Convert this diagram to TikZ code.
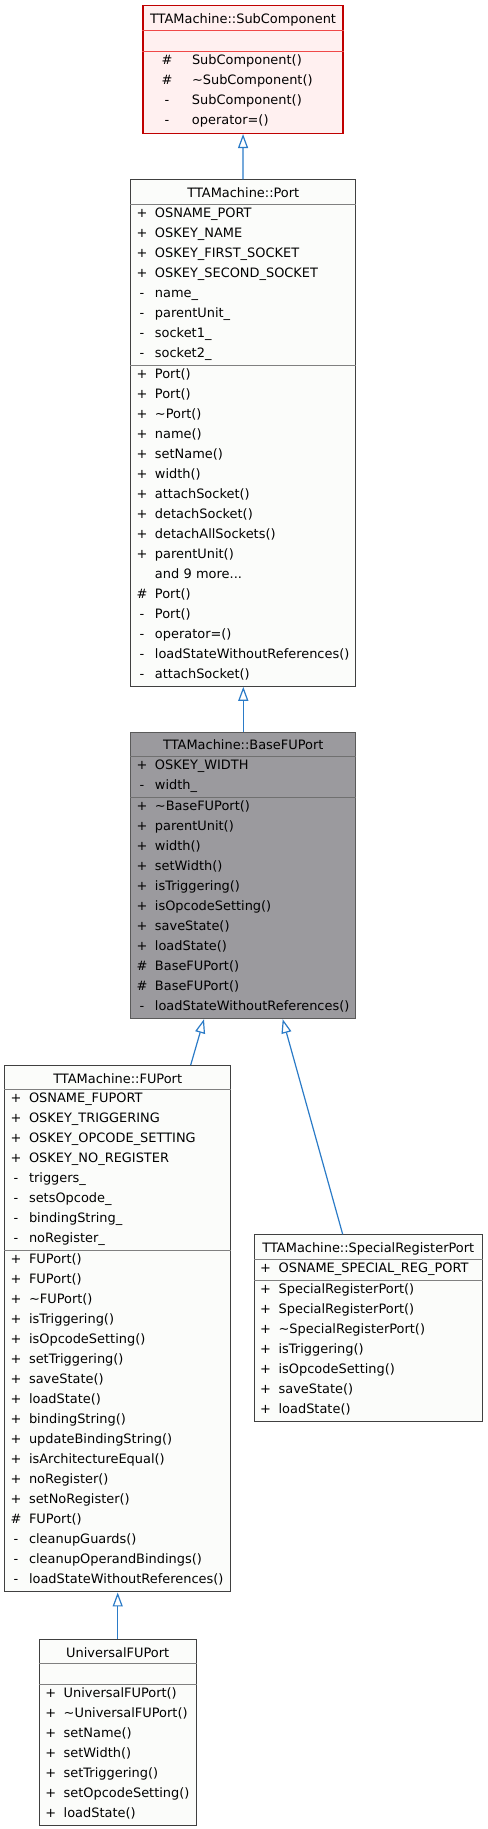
\documentclass[tikz,border=0pt]{standalone}
\usepackage{fontspec}
\setmainfont{DejaVu Sans}
\usetikzlibrary{shapes.multipart,arrows.meta,calc}
\setlength{\parindent}{0pt}

\definecolor{edgeblue}{HTML}{2B7BC7}
\definecolor{boxline}{HTML}{404040}
\definecolor{boxfill}{HTML}{FBFCFA}
\definecolor{boxsep}{HTML}{808080}
\definecolor{curline}{HTML}{5A5A5A}
\definecolor{curfill}{HTML}{9B9A9E}
\definecolor{cursep}{HTML}{707070}
\definecolor{subline}{HTML}{C00000}
\definecolor{subfill}{HTML}{FFF0F0}
\definecolor{subsep}{HTML}{F04848}

\newcommand{\rowstrut}{\rule[-5.8pt]{0pt}{15pt}}
\newcommand{\titlestrut}{\rule[-4.8pt]{0pt}{17.6pt}}
\newcommand{\ctitle}[1]{\makebox[\hsize][c]{\titlestrut #1}}
\newcommand{\mrow}[2]{\rowstrut\hspace*{4pt}\makebox[9pt][c]{#1}\hspace{5.25pt}#2}
\newcommand{\srow}[2]{\rowstrut\hspace*{13.5pt}\makebox[9pt][c]{#1}\hspace{14.25pt}#2}

\begin{document}
\begin{tikzpicture}[x=0.75pt,y=-0.75pt,
cls/.style={rectangle split, rectangle split parts=3, rectangle split draw splits=false, draw=boxline, fill=boxfill, line width=0.75pt, inner xsep=0pt, inner ysep=0pt, anchor=north, align=left, font=\fontsize{9.7pt}{15pt}\selectfont},
cur/.style={cls, draw=curline, fill=curfill},
sub/.style={cls, draw=subline, fill=subfill, line width=1.1pt},
sepline/.style={draw=boxsep, line width=0.75pt},
inh/.style={draw=edgeblue, line width=0.9pt, -{Triangle[open,fill=white,length=10.5pt,width=7.5pt]}}]

\useasboundingbox (0,0) rectangle (488,1829);

\draw (243,4.7) node[sub, text width=150pt] (SubC) {\ctitle{TTAMachine::SubComponent}
\nodepart{two}\rowstrut
\nodepart{three}\srow{\#}{SubComponent()}\\ \srow{\#}{\textasciitilde SubComponent()}\\ \srow{-}{SubComponent()}\\ \srow{-}{operator=()}};

\draw (243.3,179.3) node[cls, text width=169pt] (Port) {\ctitle{TTAMachine::Port}
\nodepart{two}\mrow{+}{OSNAME\_PORT}\\ \mrow{+}{OSKEY\_NAME}\\ \mrow{+}{OSKEY\_FIRST\_SOCKET}\\ \mrow{+}{OSKEY\_SECOND\_SOCKET}\\ \mrow{-}{name\_}\\ \mrow{-}{parentUnit\_}\\ \mrow{-}{socket1\_}\\ \mrow{-}{socket2\_}
\nodepart{three}\mrow{+}{Port()}\\ \mrow{+}{Port()}\\ \mrow{+}{\textasciitilde Port()}\\ \mrow{+}{name()}\\ \mrow{+}{setName()}\\ \mrow{+}{width()}\\ \mrow{+}{attachSocket()}\\ \mrow{+}{detachSocket()}\\ \mrow{+}{detachAllSockets()}\\ \mrow{+}{parentUnit()}\\ \mrow{}{and 9 more...}\\ \mrow{\#}{Port()}\\ \mrow{-}{Port()}\\ \mrow{-}{operator=()}\\ \mrow{-}{loadStateWithoutReferences()}\\ \mrow{-}{attachSocket()}};

\draw (243.3,731.7) node[cur, text width=169pt] (Base) {\ctitle{TTAMachine::BaseFUPort}
\nodepart{two}\mrow{+}{OSKEY\_WIDTH}\\ \mrow{-}{width\_}
\nodepart{three}\mrow{+}{\textasciitilde BaseFUPort()}\\ \mrow{+}{parentUnit()}\\ \mrow{+}{width()}\\ \mrow{+}{setWidth()}\\ \mrow{+}{isTriggering()}\\ \mrow{+}{isOpcodeSetting()}\\ \mrow{+}{saveState()}\\ \mrow{+}{loadState()}\\ \mrow{\#}{BaseFUPort()}\\ \mrow{\#}{BaseFUPort()}\\ \mrow{-}{loadStateWithoutReferences()}};

\draw (117.7,1065) node[cls, text width=169.5pt] (FU) {\ctitle{TTAMachine::FUPort}
\nodepart{two}\mrow{+}{OSNAME\_FUPORT}\\ \mrow{+}{OSKEY\_TRIGGERING}\\ \mrow{+}{OSKEY\_OPCODE\_SETTING}\\ \mrow{+}{OSKEY\_NO\_REGISTER}\\ \mrow{-}{triggers\_}\\ \mrow{-}{setsOpcode\_}\\ \mrow{-}{bindingString\_}\\ \mrow{-}{noRegister\_}
\nodepart{three}\mrow{+}{FUPort()}\\ \mrow{+}{FUPort()}\\ \mrow{+}{\textasciitilde FUPort()}\\ \mrow{+}{isTriggering()}\\ \mrow{+}{isOpcodeSetting()}\\ \mrow{+}{setTriggering()}\\ \mrow{+}{saveState()}\\ \mrow{+}{loadState()}\\ \mrow{+}{bindingString()}\\ \mrow{+}{updateBindingString()}\\ \mrow{+}{isArchitectureEqual()}\\ \mrow{+}{noRegister()}\\ \mrow{+}{setNoRegister()}\\ \mrow{\#}{FUPort()}\\ \mrow{-}{cleanupGuards()}\\ \mrow{-}{cleanupOperandBindings()}\\ \mrow{-}{loadStateWithoutReferences()}};

\draw (368.3,1234.3) node[cls, text width=171pt] (SpecReg) {\ctitle{TTAMachine::SpecialRegisterPort}
\nodepart{two}\mrow{+}{OSNAME\_SPECIAL\_REG\_PORT}
\nodepart{three}\mrow{+}{SpecialRegisterPort()}\\ \mrow{+}{SpecialRegisterPort()}\\ \mrow{+}{\textasciitilde SpecialRegisterPort()}\\ \mrow{+}{isTriggering()}\\ \mrow{+}{isOpcodeSetting()}\\ \mrow{+}{saveState()}\\ \mrow{+}{loadState()}};

\draw (117.7,1639) node[cls, text width=117.5pt] (UniFU) {\ctitle{UniversalFUPort}
\nodepart{two}\rowstrut
\nodepart{three}\mrow{+}{UniversalFUPort()}\\ \mrow{+}{\textasciitilde UniversalFUPort()}\\ \mrow{+}{setName()}\\ \mrow{+}{setWidth()}\\ \mrow{+}{setTriggering()}\\ \mrow{+}{setOpcodeSetting()}\\ \mrow{+}{loadState()}};


\draw[sepline, draw=subsep] (SubC.text split west)--(SubC.text split east);
\draw[sepline, draw=subsep] (SubC.two split west)--(SubC.two split east);
\draw[sepline] (Port.text split west)--(Port.text split east);
\draw[sepline] (Port.two split west)--(Port.two split east);
\draw[sepline, draw=cursep] (Base.text split west)--(Base.text split east);
\draw[sepline, draw=cursep] (Base.two split west)--(Base.two split east);
\draw[sepline] (FU.text split west)--(FU.text split east);
\draw[sepline] (FU.two split west)--(FU.two split east);
\draw[sepline] (SpecReg.text split west)--(SpecReg.text split east);
\draw[sepline] (SpecReg.two split west)--(SpecReg.two split east);
\draw[sepline] (UniFU.text split west)--(UniFU.text split east);
\draw[sepline] (UniFU.two split west)--(UniFU.two split east);

\draw[inh] (Port)--(SubC);
\draw[inh] (Base)--(Port);
\draw[inh] ($(FU.north)+(73,0)$)--($(Base.south)+(-39.3,0)$);
\draw[inh] ($(SpecReg.north)+(-25.6,0)$)--($(Base.south)+(39.4,0)$);
\draw[inh] (UniFU)--(FU);

\end{tikzpicture}
\end{document}
